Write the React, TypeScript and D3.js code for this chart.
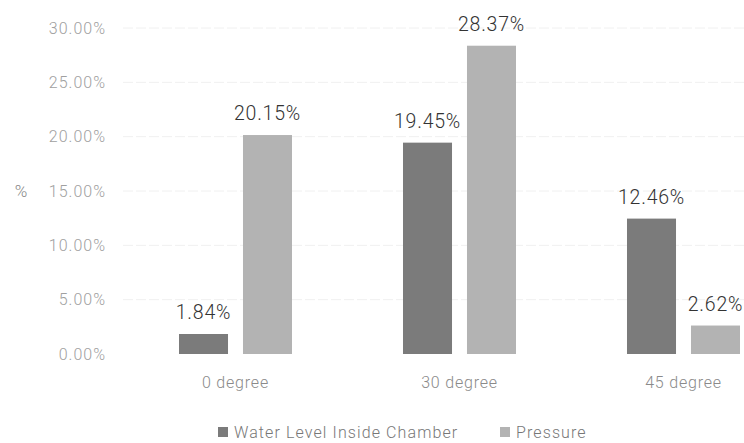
import * as d3 from 'd3';

const categories = ['0 degree', '30 degree', '45 degree'];
const seriesNames = ['Water Level Inside Chamber', 'Pressure'];
const waterLevel = [1.84, 19.45, 12.46];
const pressure = [20.15, 28.37, 2.62];
const yTicks = [0, 5, 10, 15, 20, 25, 30];

const colors = ['#7b7b7b', '#b3b3b3'];
const width = 744;
const height = 443;
const font = 'Roboto, "Open Sans", sans-serif';

const App = () => {
  const y = d3.scaleLinear().domain([0, 30]).range([354, 28]);

  const x0 = d3.scaleBand<string>()
    .domain(categories)
    .range([123, 796])
    .paddingInner(0.4955)
    .paddingOuter(0.25);

  const x1 = d3.scaleBand<string>()
    .domain(seriesNames)
    .range([0, x0.bandwidth()])
    .paddingInner(0.234);

  const values = [waterLevel, pressure];

  return (
    <svg width={width} height={height} style={{ position: 'absolute', left: 0, top: 0 }}>
      <rect width={width} height={height} fill="#fff" />

      {/* gridlines */}
      {yTicks.slice(1).map((t) => (
        <line key={t} x1={123} x2={width} y1={y(t)} y2={y(t)}
          stroke="#f0f0f0" strokeWidth={1} strokeDasharray="10 3" />
      ))}

      {/* y tick labels */}
      {yTicks.map((t) => (
        <text key={t} x={106} y={y(t)} dy="0.35em" textAnchor="end"
          fontFamily={font} fontWeight={300} fontSize={16} letterSpacing={1} fill="#a0a0a0">
          {d3.format('.2f')(t)}%
        </text>
      ))}

      <text x={21} y={y(15)} dy="0.35em" textAnchor="middle"
        fontFamily={font} fontWeight={300} fontSize={17} fill="#888">%</text>

      {/* bars */}
      {categories.map((c, i) => (
        <g key={c} transform={`translate(${x0(c)},0)`}>
          {seriesNames.map((s, j) => {
            const v = values[j][i];
            const bx = x1(s) ?? 0;
            return (
              <g key={s}>
                <rect x={bx} y={y(v)} width={x1.bandwidth()} height={y(0) - y(v)} fill={colors[j]} />
                <text x={bx + x1.bandwidth() / 2} y={y(v) - 15} textAnchor="middle"
                  fontFamily={font} fontWeight={300} fontSize={19.5} letterSpacing={0.8} fill="#333">
                  {v.toFixed(2)}%
                </text>
              </g>
            );
          })}
          <text x={x0.bandwidth() / 2} y={388} textAnchor="middle"
            fontFamily={font} fontWeight={300} fontSize={16} letterSpacing={0.8} fill="#8a8a8a">
            {c}
          </text>
        </g>
      ))}

      {/* legend */}
      <g transform="translate(218,432)">
        <rect x={0} y={-5} width={10} height={10} fill={colors[0]} />
        <text x={16} y={0} dy="0.35em" fontFamily={font} fontWeight={300} fontSize={16}
          letterSpacing={1.1} fill="#777">{seriesNames[0]}</text>
        <rect x={282} y={-5} width={10} height={10} fill={colors[1]} />
        <text x={298} y={0} dy="0.35em" fontFamily={font} fontWeight={300} fontSize={16}
          letterSpacing={1.1} fill="#777">{seriesNames[1]}</text>
      </g>
    </svg>
  );
};

export default App;
